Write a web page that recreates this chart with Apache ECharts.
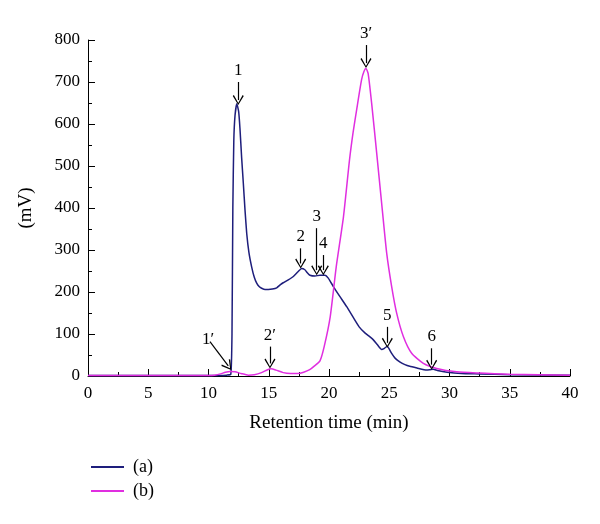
<!DOCTYPE html>
<html>
<head>
<meta charset="utf-8">
<script src="https://cdn.jsdelivr.net/npm/echarts@6/dist/echarts.min.js"></script>
<style>html,body{margin:0;padding:0;background:#fff}#c{width:600px;height:524px}</style>
</head>
<body>
<div id="c"></div>
<script>
// Series (a): retention time (min) and signal (mV)
var timeA = [0,5,10,11,11.5,11.85,11.95,12.02,12.1,12.2,12.35,12.5,12.61,12.75,12.89,13.03,13.17,13.35,13.58,13.8,14.0,14.2,14.41,14.7,14.97,15.3,15.66,16.0,16.2,16.62,17.04,17.45,17.73,18.0,18.2,18.42,18.84,19.25,19.67,19.94,20.36,20.91,21.47,22.0,22.5,23.0,23.4,23.68,24.0,24.37,24.6,24.84,25.0,25.2,25.5,25.9,26.3,26.7,27.3,28.1,28.4,28.66,29.0,29.8,31,32.5,35,40];
var valueA = [1,1,1,1,2,4,100,400,560,620,648,630,590,520,459,395,340,295,260,235,221,213,209,206,206,207,210,218,222,229,237,249,256,253,246,240,238,240,240,233,213,189,165,140,117,102,93,86,75,63,66,71,64,54,42,33,27,23,19,14,15,16,13,9,6,5,3,2];
// Series (b)
var timeB = [0,5,10,10.5,11.0,11.4,11.8,12.2,12.7,13.3,13.8,14.4,14.9,15.2,15.6,16.2,16.8,17.4,17.9,18.4,18.8,19.25,19.6,20.1,20.6,21.2,21.7,22.0,22.3,22.7,22.9,23.07,23.25,23.54,23.96,24.37,24.79,25.2,25.62,26.17,26.86,27.83,28.94,30.6,32.5,35,40];
var valueB = [1,1,1,2,5,9,11,10,6,2,3,8,15,17,14,8,6,6,9,15,24,36,70,141,260,379,514,580,635,705,725,732,720,649,530,411,292,213,149,94,54,30,18,10,7,4,2];
// Tick labels
var xTicks = [0,5,10,15,20,25,30,35,40];
var yTicks = [0,100,200,300,400,500,600,700,800];
// Peak annotations: label, arrow start [t, mV], arrow end [t, mV]
var annotLabels = ['1','2','3','4','5','6','1\u2032','2\u2032','3\u2032'];
var annotFrom = [[12.47,700],[17.65,304],[18.98,352],[19.53,288],[24.84,117],[28.52,66],[10.12,82],[15.1,70],[23.07,788]];
var annotTo   = [[12.47,657],[17.65,268],[18.98,252],[19.53,252],[24.84,79],[28.52,27],[11.64,24],[15.1,30],[23.07,745]];

function pairs(t, v){ return t.map(function(x,i){ return [x, v[i]]; }); }
var FONT = '"Liberation Serif","DejaVu Serif",serif';
var chevron = 'path://M5,0 L10,9 L9,10 L5,2 L1,10 L0,9 Z';

var markData = annotLabels.map(function(l,i){
  return [{coord: annotFrom[i], label:{formatter:l}}, {coord: annotTo[i]}];
});

var chart = echarts.init(document.getElementById('c'));
chart.setOption({
  animation: false,
  backgroundColor: '#fff',
  grid: {left: 88, right: 30, top: 40, bottom: 148},
  legend: {
    orient: 'vertical', left: 86, top: 453, itemWidth: 33, itemHeight: 2, itemGap: 6,
    icon: 'rect',
    textStyle: {fontFamily: FONT, fontSize: 18, color: '#000', padding: [0,0,0,4]},
    data: ['(a)','(b)']
  },
  xAxis: {
    type: 'value', min: 0, max: 40, interval: 5,
    name: 'Retention time (min)', nameLocation: 'middle', nameGap: 38,
    nameTextStyle: {fontFamily: FONT, fontSize: 19, color: '#000'},
    axisLine: {show: true, lineStyle: {color: '#000', width: 1}},
    axisTick: {show: true, inside: true, length: 7, lineStyle: {color: '#000'}},
    minorTick: {show: true, splitNumber: 2, length: 4, lineStyle: {color: '#000'}},
    axisLabel: {fontFamily: FONT, fontSize: 17, color: '#000', margin: 9,
      formatter: function(v){ return xTicks.indexOf(v) >= 0 ? String(v) : ''; }},
    splitLine: {show: false}
  },
  yAxis: {
    type: 'value', min: 0, max: 800, interval: 100,
    name: '(mV)', nameLocation: 'middle', nameGap: 52, nameRotate: 90,
    nameTextStyle: {fontFamily: FONT, fontSize: 19, color: '#000'},
    axisLine: {show: true, lineStyle: {color: '#000', width: 1}},
    axisTick: {show: true, inside: true, length: 7, lineStyle: {color: '#000'}},
    minorTick: {show: true, splitNumber: 2, length: 4, lineStyle: {color: '#000'}},
    axisLabel: {fontFamily: FONT, fontSize: 17, color: '#000', margin: 8,
      formatter: function(v){ return yTicks.indexOf(v) >= 0 ? String(v) : ''; }},
    splitLine: {show: false}
  },
  series: [
    {
      name: '(a)', type: 'line', data: pairs(timeA, valueA), symbol: 'none', smooth: 0.15,
      clip: false,
      lineStyle: {color: '#1e1e7c', width: 1.5}, itemStyle: {color: '#1e1e7c'},
      markLine: {
        silent: true, symbol: ['none', chevron], symbolSize: [11, 10],
        lineStyle: {color: '#000', width: 1.2, type: 'solid'},
        label: {show: true, position: 'start', distance: 3, fontFamily: FONT, fontSize: 17, color: '#000'},
        data: markData
      }
    },
    {
      name: '(b)', type: 'line', data: pairs(timeB, valueB), symbol: 'none', smooth: 0.2,
      clip: false,
      lineStyle: {color: '#e02ee0', width: 1.5}, itemStyle: {color: '#e02ee0'}
    }
  ]
});
</script>
</body>
</html>
